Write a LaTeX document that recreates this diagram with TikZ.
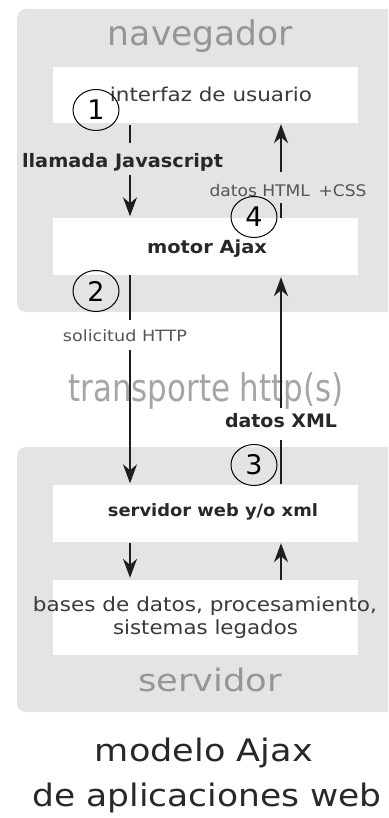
\documentclass[tikz,border=0pt]{standalone}
\usepackage{fontspec}
\setmainfont{DejaVu Sans}
\usetikzlibrary{arrows.meta,shapes.geometric}

\definecolor{panel}{RGB}{228,228,228}
\definecolor{titlegray}{RGB}{150,150,150}
\definecolor{faintgray}{RGB}{165,165,165}
\definecolor{inktext}{RGB}{58,58,58}
\definecolor{softtext}{RGB}{85,85,85}
\definecolor{strongtext}{RGB}{40,40,40}
\definecolor{wirecol}{RGB}{30,30,30}

% set a text at a given width, keeping its natural height
\newcommand{\fitw}[2]{\resizebox{#1}{\height}{#2}}
\newcommand{\fsz}[1]{\fontsize{#1}{#1}\selectfont}

\begin{document}
\begin{tikzpicture}[x=1pt,y=-1pt,
  layerbox/.style={fill=white, draw=none, inner sep=0pt},
  txt/.style={anchor=base, inner sep=0pt},
  numcirc/.style={ellipse, draw=black, line width=1pt, inner sep=0pt,
                  minimum width=46pt, minimum height=41pt,
                  font=\fsz{27}, text=black},
  wire/.style={draw=wirecol, line width=1.6pt},
  arrow/.style={wire, -{Stealth[length=19pt,width=14pt,inset=6pt]}}]

\useasboundingbox (0,0) rectangle (388,818);
\fill[white] (0,0) rectangle (388,818);

% grey panels for the two tiers
\begin{scope}
  \clip (0,0) rectangle (388,818);
  \fill[panel, rounded corners=9pt] (17,9) rectangle (410,312);
  \fill[panel, rounded corners=9pt] (17,447) rectangle (410,712);
\end{scope}

% white layer boxes
\node[layerbox, minimum width=305pt, minimum height=56pt] (ui)    at (205.5,95)    {};
\node[layerbox, minimum width=305pt, minimum height=57pt] (motor) at (205.5,246.5) {};
\node[layerbox, minimum width=305pt, minimum height=57pt] (web)   at (205.5,513.5) {};
\node[layerbox, minimum width=305pt, minimum height=75pt] (db)    at (205.5,617.5) {};

% texts
\node[txt, text=titlegray] (tnav) at (200.5,46)
  {\fitw{185pt}{\fsz{34}navegador}};
\node[txt, text=inktext] (tui) at (211,101.5)
  {\fitw{202pt}{\fsz{19}interfaz de usuario}};
\node[txt, text=strongtext] (l1) at (122.5,167.5)
  {\fitw{201pt}{\fsz{18.5}\bfseries llamada Javascript}};
\node[txt, text=softtext] (l4) at (288,197)
  {\fitw{157pt}{\fsz{16}datos HTML\enspace+CSS}};
\node[txt, text=strongtext] (tmotor) at (207,253)
  {\fitw{120pt}{\fsz{18}\bfseries motor Ajax}};
\node[txt, text=softtext] (l2) at (125,341.5)
  {\fitw{124pt}{\fsz{15.5}solicitud HTTP}};
\node[txt, text=faintgray] (ttrans) at (206,401.5)
  {\fitw{275pt}{\fsz{38}transporte http(s)}};
\node[txt, text=strongtext] (l3) at (281,427.5)
  {\fitw{112pt}{\fsz{18.5}\bfseries datos XML}};
\node[txt, text=strongtext] (tweb) at (213,516)
  {\fitw{210pt}{\fsz{17}\bfseries servidor web y/o xml}};
\node[txt, text=inktext] (tdb1) at (205,611.5)
  {\fitw{344pt}{\fsz{19.5}bases de datos, procesamiento,}};
\node[txt, text=inktext] (tdb2) at (205.5,634.5)
  {\fitw{185pt}{\fsz{19.5}sistemas legados}};
\node[txt, text=titlegray] (tsrv) at (210,691.5)
  {\fitw{144pt}{\fsz{31}servidor}};
\node[txt, text=strongtext] (cap1) at (204,761)
  {\fitw{218pt}{\fsz{31}modelo Ajax}};
\node[txt, text=strongtext] (cap2) at (207,806)
  {\fitw{349pt}{\fsz{31}de aplicaciones web}};

% break points where the labels interrupt the connectors
\coordinate (a1) at (130,143);
\coordinate (b1) at (130,175);
\coordinate (a2) at (130,320);
\coordinate (b2) at (130,350);
\coordinate (a4) at (281,203);
\coordinate (b4) at (281,172);
\coordinate (a3) at (281,440);
\coordinate (b3) at (281,408);

% downward flow (left)
\draw[wire, shorten <=2pt] (ui.south -| a1) -- (a1);
\draw[arrow, shorten >=1.5pt] (b1) -- (motor.north -| b1);
\draw[wire] (motor.south -| a2) -- (a2);
\draw[arrow, shorten >=1.5pt] (b2) -- (web.north -| b2);
\draw[arrow, shorten <=1pt, shorten >=2pt] (web.south -| b2) -- (db.north -| b2);

% upward flow (right)
\draw[wire] (motor.north -| a4) -- (a4);
\draw[arrow, shorten >=1pt] (b4) -- (ui.south -| b4);
\draw[wire, shorten <=1pt] (web.north -| a3) -- (a3);
\draw[arrow, shorten >=2pt] (b3) -- (motor.south -| b3);
\draw[arrow, shorten >=1pt] (db.north -| a3) -- (web.south -| a3);

% step numbers
\node[numcirc] (n1) at (96,110) {1};
\node[numcirc] (n2) at (96,291) {2};
\node[numcirc] (n3) at (254,465) {3};
\node[numcirc] (n4) at (254,217) {4};

\end{tikzpicture}
\end{document}
